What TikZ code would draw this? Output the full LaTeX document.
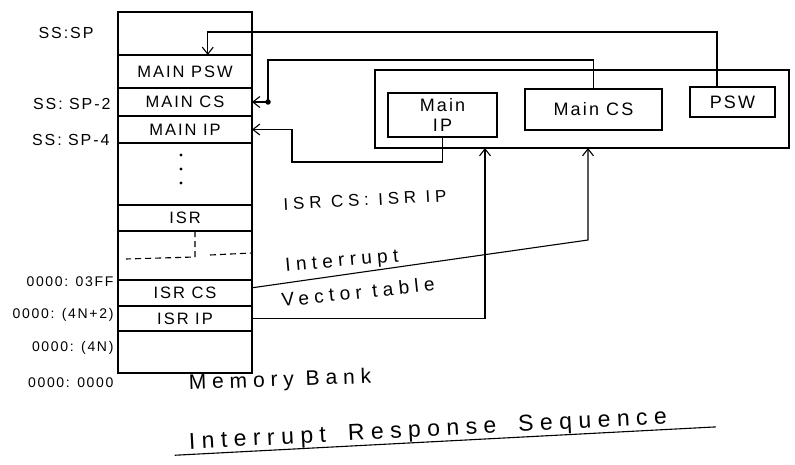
\documentclass[tikz,border=0pt]{standalone}
\usepackage{fontspec}
\setmainfont{Liberation Sans}
\newfontfamily\handA{Liberation Sans}[LetterSpace=12]
\newfontfamily\handB{Liberation Sans}[LetterSpace=28]
\usetikzlibrary{arrows.meta,calc}

\begin{document}
\begin{tikzpicture}[x=1pt,y=-1pt,line width=1.1pt,
  cell/.style={draw, minimum width=134pt, anchor=north, inner sep=0pt, outer sep=0pt,
               font=\handA\fontsize{16.5}{18}\selectfont},
  box/.style={draw, inner sep=0pt, outer sep=0pt, align=center,
              font=\handA\fontsize{18}{20}\selectfont},
  addr/.style={anchor=east, inner sep=0pt, font=\handA\fontsize{14}{16}\selectfont},
  ssaddr/.style={addr, font=\handA\fontsize{16}{18}\selectfont},
  note/.style={inner sep=0pt, font=\handB\fontsize{17}{19}\selectfont},
  arr/.style={-{Straight Barb[length=7pt,width=11pt,line width=1.1pt]}},
  dotmark/.style={fill, circle, inner sep=0pt, minimum size=3.2pt}
]
\useasboundingbox (0,0) rectangle (795,465);

% ---- memory bank (stack) ----
\node[cell, minimum height=43pt] (top)    at (185,12)     {};
\node[cell, minimum height=33pt] (mpsw)   at (top.south)  {MAIN PSW};
\node[cell, minimum height=28pt] (mcs)    at (mpsw.south) {MAIN CS};
\node[cell, minimum height=27pt] (mip)    at (mcs.south)  {MAIN IP};
\node[cell, minimum height=62pt] (gap)    at (mip.south)  {};
\node[cell, minimum height=26pt] (isr)    at (gap.south)  {ISR};
\node[cell, minimum height=49pt] (blank)  at (isr.south)  {};
\node[cell, minimum height=26pt] (isrcs)  at (blank.south){ISR CS};
\node[cell, minimum height=25pt] (isrip)  at (isrcs.south){ISR IP};
\node[cell, minimum height=42pt] (bottom) at (isrip.south){};

% continuation dots in the stack
\node[dotmark] (d1) at (181,155) {};
\node[dotmark] (d2) at (181,169) {};
\node[dotmark] (d3) at (181,183) {};

% dashed marking inside the empty row
\draw[dashed, dash pattern=on 6pt off 4pt] (195,231) -- (195,257) -- (126,259);
\draw[dashed, dash pattern=on 6pt off 4pt] (210,255) -- (252,253);

% ---- addresses ----
\node[ssaddr] (a0) at (94,33)   {SS:SP};
\node[ssaddr] (a1) at (111,104) {SS: SP-2};
\node[ssaddr] (a2) at (110,140) {SS: SP-4};
\node[addr] (a3) at (114,282) {0000: 03FF};
\node[addr] (a4) at (114,315) {0000: (4N+2)};
\node[addr] (a5) at (114,348) {0000: (4N)};
\node[addr] (a6) at (114,383) {0000: 0000};

% ---- registers ----
\node[draw, inner sep=0pt, outer sep=0pt, minimum width=414pt, minimum height=78pt] (regs) at (582,109) {};
\node[box, minimum width=109pt, minimum height=44pt] (mainip) at (442.5,115) {Main\\IP};
\node[box, minimum width=137pt, minimum height=41pt] (maincs) at (593.5,109.5) {Main CS};
\node[box, minimum width=85pt, minimum height=30pt]  (psw)    at (732.5,102) {PSW};

% ---- push of PSW, CS and IP onto the stack ----
\draw[arr] ([xshift=-15.5pt]psw.north) -- ++(0,-55) -| ($(mpsw.north west)!0.67!(mpsw.north east)$);

\coordinate (csbend) at (268,60);
\draw[arr] (maincs.north) |- (csbend) |- (mcs.east);
\node[dotmark, minimum size=5.5pt] (csdot) at (csbend |- mcs.east) {};

\coordinate (ipbend) at (292,162);
\draw[arr] (mainip.south) |- (ipbend) |- (mip.east);

% ---- loading CS and IP from the vector table ----
\coordinate (vtcs) at (588,240);
\draw[arr] ($(isrcs.north east)!0.3!(isrcs.south east)$) -- (vtcs) -- (vtcs |- regs.south);
\coordinate (vtip) at (485,300);
\draw[arr] (isrip.east) -| (vtip |- regs.south);

% ---- annotations ----
\node[note, rotate=3] (israddr) at (365,200) {ISR CS: ISR IP};
\node[note, rotate=5, font=\handB\fontsize{19}{21}\selectfont] (ivt1) at (342,262) {Interrupt};
\node[note, rotate=6, font=\handB\fontsize{19}{21}\selectfont] (ivt2) at (358,292) {Vector table};
\node[note, rotate=2, font=\handB\fontsize{21}{23}\selectfont] (membank) at (280,381) {Memory Bank};
\node[note, rotate=3, font=\handB\fontsize{23}{25}\selectfont] (title) at (428,431)
  {Interrupt\hspace{22pt}Response\hspace{22pt}Sequence};
\draw ($(title.south west)!-0.03!(title.south east)$) -- ($(title.south west)!1.10!(title.south east)$);
\end{tikzpicture}
\end{document}
